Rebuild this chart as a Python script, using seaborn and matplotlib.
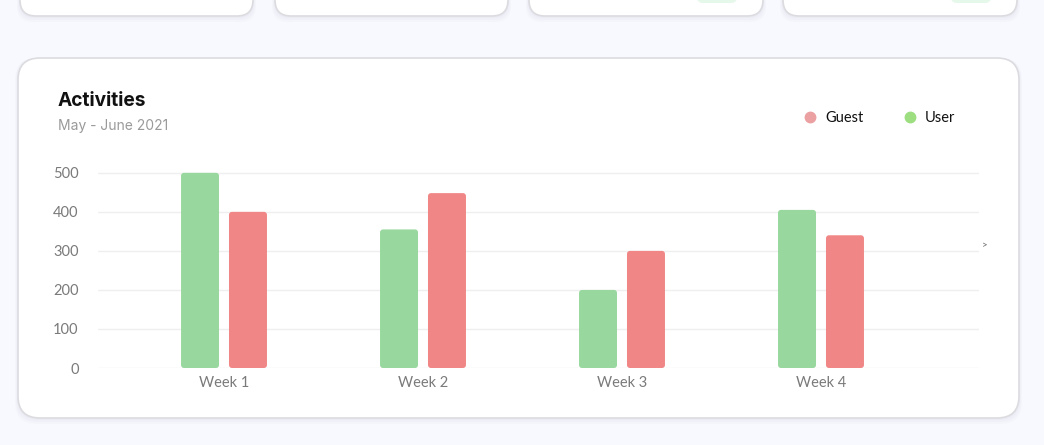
import pandas as pd
import numpy as np
import matplotlib
matplotlib.use('Agg')
import matplotlib.pyplot as plt
import seaborn as sns
from matplotlib.patches import FancyBboxPatch
from matplotlib.lines import Line2D

# data
weeks = ['Week 1', 'Week 2', 'Week 3', 'Week 4']
user_vals = [500, 355, 200, 405]
guest_vals = [400, 448, 300, 340]
y_ticks = [0, 100, 200, 300, 400, 500]

df = pd.DataFrame({
    'week': weeks * 2,
    'value': user_vals + guest_vals,
    'who': ['User'] * 4 + ['Guest'] * 4,
})

green = '#98D89E'
red = '#F08786'

sns.set_theme(style='white')
plt.rcParams['font.family'] = ['Lato', 'DejaVu Sans']

W, H = 1044, 445
fig = plt.figure(figsize=(W / 100, H / 100), dpi=100)
fig.patch.set_facecolor('#F8F9FE')

# background layer in pixel coords
bg = fig.add_axes([0, 0, 1, 1])
bg.set_xlim(0, W)
bg.set_ylim(H, 0)
bg.axis('off')
bg.set_zorder(0)


def card(x0, y0, x1, y1, r):
    # soft shadow
    for k, a in [(6, 0.03), (4, 0.04), (2, 0.06)]:
        bg.add_patch(FancyBboxPatch((x0 - k / 2, y0), x1 - x0 + k, y1 - y0 + k,
                                    boxstyle=f'round,pad=0,rounding_size={r}',
                                    fc='#9098B0', ec='none', alpha=a))
    bg.add_patch(FancyBboxPatch((x0, y0), x1 - x0, y1 - y0,
                                boxstyle=f'round,pad=0,rounding_size={r}',
                                fc='white', ec='#DCDCE0', lw=1.2))


# top cards (cut off by the top edge)
for cx0, cx1 in [(20, 253), (275, 508), (529, 763), (783, 1017)]:
    card(cx0, -40, cx1, 16, 16)
for px in [697, 951]:
    bg.add_patch(FancyBboxPatch((px, -10), 40, 13, boxstyle='round,pad=0,rounding_size=6',
                                fc='#E6F8EA', ec='none'))

# main card
card(18, 58, 1019, 418, 22)

# texts on card
fig.text(58 / W, 1 - 101 / H, 'Activities', fontsize=13.8, fontweight='bold',
         family=['Inter', 'DejaVu Sans'], color='#111111', va='center', ha='left')
fig.text(58 / W, 1 - 126 / H, 'May - June 2021', fontsize=10,
         family=['Inter', 'DejaVu Sans'], color='#9A9A9A', va='center', ha='left')
fig.text(985 / W, 1 - 246 / H, '>', fontsize=7, color='#666666', va='center', ha='center')

# chart axes
ax = fig.add_axes([98 / W, 77 / H, 881 / W, 203 / H])
ax.set_zorder(2)
ax.patch.set_alpha(0)

sns.barplot(data=df, x='week', y='value', hue='who', hue_order=['User', 'Guest'],
            order=weeks, palette=[green, red], width=0.482, gap=0.208,
            legend=False, ax=ax, saturation=1)

# rounded bars
ux = 1 / 199.0
uy = 1 / 0.39
for p in list(ax.patches):
    x, y = p.get_x(), p.get_y()
    w, h = p.get_width(), p.get_height()
    fc = p.get_facecolor()
    p.remove()
    r = 3 * ux
    ax.add_patch(FancyBboxPatch((x, y), w, h,
                                boxstyle=f'round,pad=0,rounding_size={r}',
                                mutation_aspect=uy / ux, fc=fc, ec='none',
                                clip_on=False, zorder=3))

ax.set_xlim((98 - 224) / 199, (979 - 224) / 199)
ax.set_ylim(0, 520)
ax.set_yticks(y_ticks)
ax.yaxis.grid(True, color='#EFEFEF', lw=1)
ax.set_axisbelow(True)
for s in ax.spines.values():
    s.set_visible(False)
ax.tick_params(axis='y', length=0, pad=14, labelsize=10.5, labelcolor='#7A7A7A')
ax.tick_params(axis='x', length=0, pad=6, labelsize=10.5, labelcolor='#7A7A7A')
ax.set_xlabel('')
ax.set_ylabel('')

# legend
handles = [
    Line2D([], [], marker='o', ls='none', color='#EBA0A2', markersize=7.5, label='Guest'),
    Line2D([], [], marker='o', ls='none', color='#9CDE80', markersize=7.5, label='User'),
]
fig.legend(handles=handles, loc='center left', bbox_to_anchor=(787 / W, 1 - 118 / H),
           ncol=2, frameon=False, fontsize=10.5, handlelength=1.3, handletextpad=0.4,
           columnspacing=2.55, labelcolor='#111111')

fig.savefig('out.png', dpi=100, facecolor=fig.get_facecolor())
